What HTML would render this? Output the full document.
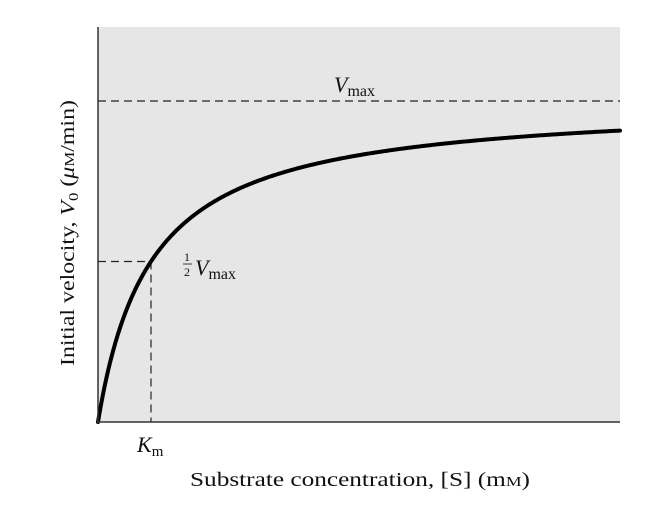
<!DOCTYPE html>
<html><head><meta charset="utf-8"><style>
body{margin:0;background:#fff;width:657px;height:509px;overflow:hidden}
svg text{font-family:"Liberation Serif",serif;fill:#111}
</style></head><body>
<svg id="chart" width="657" height="509" viewBox="0 0 657 509">
<rect x="98" y="27" width="522" height="395" fill="#e6e6e6"/>
<g id="marks"></g>
<line x1="98" y1="27" x2="98" y2="423" stroke="#333" stroke-width="1.5"/>
<line x1="97" y1="422" x2="620" y2="422" stroke="#333" stroke-width="1.5"/>
<text x="334" y="92" font-size="22" font-style="italic">V<tspan font-style="normal" font-size="16" dy="4">max</tspan></text>
<g>
<text x="184" y="261" font-size="12">1</text>
<line x1="183" y1="264" x2="192" y2="264" stroke="#111" stroke-width="0.8"/>
<text x="184" y="276" font-size="12">2</text>
<text x="195" y="275" font-size="22" font-style="italic">V<tspan font-style="normal" font-size="16" dy="4">max</tspan></text>
</g>
<text x="137" y="452" font-size="22" font-style="italic">K<tspan font-style="normal" font-size="15" dy="4">m</tspan></text>
<text x="190" y="486" font-size="20" textLength="340" lengthAdjust="spacingAndGlyphs">Substrate concentration, [S] (m<tspan font-size="14">M</tspan>)</text>
<text transform="translate(74,366) rotate(-90)" font-size="20" textLength="266" lengthAdjust="spacingAndGlyphs">Initial velocity, <tspan font-style="italic">V</tspan><tspan font-size="14" dy="4">0</tspan><tspan dy="-4"> (</tspan><tspan font-style="italic">μ</tspan><tspan font-size="14">M</tspan>/min)</text>
</svg>
<script>
const vmaxValues=[1];
const kmValues=[1];
const xDomain=[0,9.85];
const yDomain=[0,1];
const X0=98,X1=620,Y0=422,YV=101;
function xs(v){return X0+(v-xDomain[0])/(xDomain[1]-xDomain[0])*(X1-X0);}
function ys(v){return Y0-(v-yDomain[0])/(yDomain[1]-yDomain[0])*(Y0-YV);}
const g=document.getElementById('marks');
const NS='http://www.w3.org/2000/svg';
const vmax=vmaxValues[0],km=kmValues[0];
function mk(tag,attrs){const e=document.createElementNS(NS,tag);for(const k in attrs)e.setAttribute(k,attrs[k]);g.appendChild(e);return e;}
const l1=mk('line',{x1:X0,y1:ys(vmax),x2:X1,y2:ys(vmax),stroke:'#222','stroke-width':1.2,'stroke-dasharray':'8,5'});


const l2=mk('line',{x1:X0,y1:ys(vmax/2),x2:xs(km),y2:ys(vmax/2),stroke:'#222','stroke-width':1.2,'stroke-dasharray':'8,5'});


const l3=mk('line',{x1:xs(km),y1:ys(vmax/2),x2:xs(km),y2:Y0,stroke:'#222','stroke-width':1.2,'stroke-dasharray':'8,5'});


let d='';
for(let i=0;i<=300;i++){const s=xDomain[0]+(xDomain[1]-xDomain[0])*Math.pow(i/300,1.6);const v=vmax*s/(km+s);d+=(i?'L':'M')+xs(s).toFixed(2)+','+ys(v).toFixed(2);}
const c=mk('path',{d:d,fill:'none',stroke:'#000','stroke-width':4,'stroke-linecap':'round'});


</script>
</body></html>
